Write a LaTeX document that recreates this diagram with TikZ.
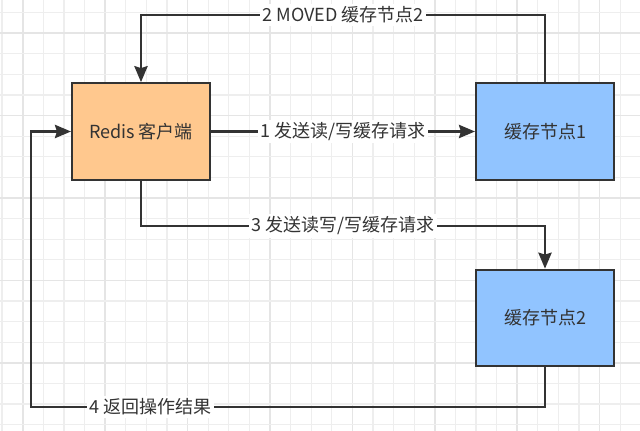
\documentclass[tikz,border=0pt]{standalone}
\usepackage{fontspec}
\setmainfont{Noto Sans CJK SC}
\usetikzlibrary{arrows.meta,positioning}

\definecolor{linecol}{HTML}{333333}
\definecolor{clientfill}{RGB}{255,200,142}
\definecolor{nodefill}{RGB}{145,196,255}

\begin{document}
\begin{tikzpicture}[
            x=0.75pt,y=-0.75pt,
            every node/.append style={text=linecol,font=\fontsize{13.5}{15}\selectfont},
            box/.style={draw=linecol,line width=1.6pt,minimum width=103.5pt,minimum height=72.5pt,inner sep=0pt},
            link/.style={draw=linecol,line width=1.6pt,-{Stealth[length=12pt,width=10pt,inset=1.5pt]}},
            tag/.style={fill=white,inner sep=2pt},
            minorline/.style={draw=gray!13,line width=0.9pt},
            majorline/.style={draw=gray!20,line width=1.2pt}
        ]
            \useasboundingbox (0,0) rectangle (640,431);
            \fill[white] (0,0) rectangle (640,431);

            % grid
            \foreach \i in {0,...,31} {
                \pgfmathsetmacro{\gx}{2.1+20.6*\i}
                \ifnum\numexpr\i-4*(\i/4)\relax=1
                    \draw[majorline] (\gx,0) -- (\gx,431);
                \else
                    \draw[minorline] (\gx,0) -- (\gx,431);
                \fi
            }
            \foreach \j in {0,...,20} {
                \pgfmathsetmacro{\gy}{12.7+20.6*\j}
                \ifnum\numexpr\j-4*(\j/4)\relax=1
                    \draw[majorline] (0,\gy) -- (640,\gy);
                \else
                    \draw[minorline] (0,\gy) -- (640,\gy);
                \fi
            }

            \node[box,fill=clientfill] (client) at (141,131.5) {Redis 客户端};
            \node[box,fill=nodefill] (cache1) at (545,131.5) {缓存节点1};
            \node[box,fill=nodefill] (cache2) at (545,318) {缓存节点2};
            \coordinate (back) at (31,407);

            \draw[link] (client.east) -- node[tag]{1 发送读/写缓存请求} (cache1.west);
            \draw[link] (cache1.north) -- ++(0,-67) -| node[tag,pos=0.25]{2 MOVED 缓存节点2} (client.north);
            \draw[link] (client.south) -- ++(0,45) -| node[tag,pos=0.25]{3 发送读写/写缓存请求} (cache2.north);
            \draw[link] (cache2.south) |- node[tag,pos=0.884]{4 返回操作结果} (back) |- (client.west);
        \end{tikzpicture}
\end{document}
